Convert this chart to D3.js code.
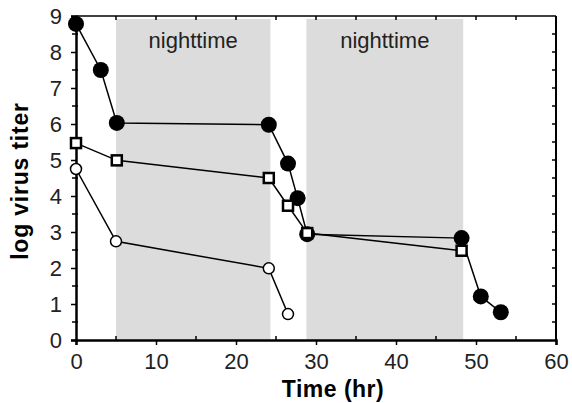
<!DOCTYPE html>
<html>
<head>
<meta charset="utf-8">
<script src="https://cdn.jsdelivr.net/npm/d3@7"></script>
<style>
  body { margin: 0; background: #fff; }
  svg text { font-family: "Helvetica Neue", "Liberation Sans", Arial, sans-serif; }
</style>
</head>
<body>
<svg id="chart" width="572" height="403"></svg>
<script>
// data
var filledX = [0, 3.1, 5.1, 24.1, 26.5, 27.7, 28.9, 48.2, 50.6, 53.1];
var filledY = [8.78, 7.5, 6.03, 5.98, 4.9, 3.94, 2.94, 2.83, 1.21, 0.77];

var squareX = [0, 5.1, 24.1, 26.5, 28.9, 48.2];
var squareY = [5.47, 4.99, 4.5, 3.73, 2.97, 2.48];

var openX = [0, 5.0, 24.1, 26.5];
var openY = [4.75, 2.74, 1.99, 0.72];

var nightStart = [5, 28.8];
var nightEnd = [24.3, 48.4];
var nightLabel = ["nighttime", "nighttime"];

var xTicks = [0, 10, 20, 30, 40, 50, 60];
var yTicks = [0, 1, 2, 3, 4, 5, 6, 7, 8, 9];

var margin = {left: 76, right: 16, top: 16, bottom: 63};
var width = 572 - margin.left - margin.right;
var height = 403 - margin.top - margin.bottom;

var svg = d3.select("#chart");
var g = svg.append("g")
    .attr("transform", "translate(" + margin.left + "," + margin.top + ")");

var x = d3.scaleLinear().domain([0, 60]).range([0, width]);
var y = d3.scaleLinear().domain([0, 9]).range([height, 0]);

// night shading
nightStart.forEach(function(s, i) {
    g.append("rect")
        .attr("x", x(s))
        .attr("y", 3)
        .attr("width", x(nightEnd[i]) - x(s))
        .attr("height", height - 3)
        .style("fill", "#dcdcdc");
    g.append("text")
        .attr("x", (x(s) + x(nightEnd[i])) / 2)
        .attr("y", 32)
        .attr("text-anchor", "middle")
        .style("font-size", "22px")
        .style("font-weight", 300)
        .style("fill", "#222")
        .text(nightLabel[i]);
});

// frame
g.append("line").attr("x1", 0).attr("x2", width).attr("y1", 0).attr("y2", 0)
    .attr("stroke", "#000").attr("stroke-width", 1.5);
g.append("line").attr("x1", width).attr("x2", width).attr("y1", 0).attr("y2", height)
    .attr("stroke", "#000").attr("stroke-width", 2);

// axes
var xAxis = g.append("g")
    .attr("transform", "translate(0," + height + ")")
    .call(d3.axisBottom(x).tickValues(xTicks).tickSize(5).tickPadding(6));
var yAxis = g.append("g")
    .call(d3.axisLeft(y).tickValues(yTicks).tickSize(5).tickPadding(9));

[xAxis, yAxis].forEach(function(a) {
    a.select(".domain").attr("stroke-width", 2.5);
    a.selectAll(".tick line").attr("stroke-width", 1.5);
    a.selectAll(".tick text")
        .style("font-size", "22px")
        .style("font-weight", 300)
        .style("fill", "#222")
        .style("font-family", "\"Helvetica Neue\", \"Liberation Sans\", Arial, sans-serif");
});
xAxis.selectAll(".tick text").attr("dy", "0.8em");

// minor ticks
var xMinor = d3.range(5, 60, 10);
xMinor.forEach(function(v) {
    g.append("line").attr("x1", x(v)).attr("x2", x(v))
        .attr("y1", height).attr("y2", height - 4)
        .attr("stroke", "#000").attr("stroke-width", 1.5);
});
d3.range(5, 60, 5).forEach(function(v) {
    g.append("line").attr("x1", x(v)).attr("x2", x(v))
        .attr("y1", 0).attr("y2", 4)
        .attr("stroke", "#000").attr("stroke-width", 1.5);
});
d3.range(0.5, 9, 0.5).forEach(function(v) {
    if (v % 1 !== 0) {
        g.append("line").attr("x1", -4).attr("x2", 2)
            .attr("y1", y(v)).attr("y2", y(v))
            .attr("stroke", "#000").attr("stroke-width", 1.5);
    }
    g.append("line").attr("x1", width - 4).attr("x2", width)
        .attr("y1", y(v)).attr("y2", y(v))
        .attr("stroke", "#000").attr("stroke-width", 1.5);
});

// series
function drawLine(xs, ys) {
    var pts = xs.map(function(d, i) { return [d, ys[i]]; });
    g.append("path")
        .datum(pts)
        .attr("fill", "none")
        .attr("stroke", "#000")
        .attr("stroke-width", 1.5)
        .attr("d", d3.line().x(function(d) { return x(d[0]); }).y(function(d) { return y(d[1]); }));
    return pts;
}

var openPts = drawLine(openX, openY);
var squarePts = drawLine(squareX, squareY);
var filledPts = drawLine(filledX, filledY);

g.selectAll(".open")
    .data(openPts)
    .enter()
    .append("circle")
    .attr("class", "open")
    .attr("cx", function(d) { return x(d[0]); })
    .attr("cy", function(d) { return y(d[1]); })
    .attr("r", 5.5)
    .style("fill", "#fff")
    .attr("stroke", "#000")
    .attr("stroke-width", 1.5);

g.selectAll(".filled")
    .data(filledPts)
    .enter()
    .append("circle")
    .attr("class", "filled")
    .attr("cx", function(d) { return x(d[0]); })
    .attr("cy", function(d) { return y(d[1]); })
    .attr("r", 8)
    .style("fill", "#000");

g.selectAll(".square")
    .data(squarePts)
    .enter()
    .append("rect")
    .attr("class", "square")
    .attr("x", function(d) { return x(d[0]) - 5; })
    .attr("y", function(d) { return y(d[1]) - 5; })
    .attr("width", 10)
    .attr("height", 10)
    .style("fill", "#fff")
    .attr("stroke", "#000")
    .attr("stroke-width", 2.5);

// axis titles
svg.append("text")
    .attr("x", 333)
    .attr("y", 397)
    .attr("text-anchor", "middle")
    .style("font-size", "23px")
    .style("font-weight", "bold")
    .style("letter-spacing", "0.5px")
    .text("Time (hr)");

svg.append("text")
    .attr("transform", "translate(28," + 181 + ") rotate(-90)")
    .attr("text-anchor", "middle")
    .style("font-size", "23px")
    .style("font-weight", "bold")
    .style("letter-spacing", "0.8px")
    .text("log virus titer");
</script>
</body>
</html>
